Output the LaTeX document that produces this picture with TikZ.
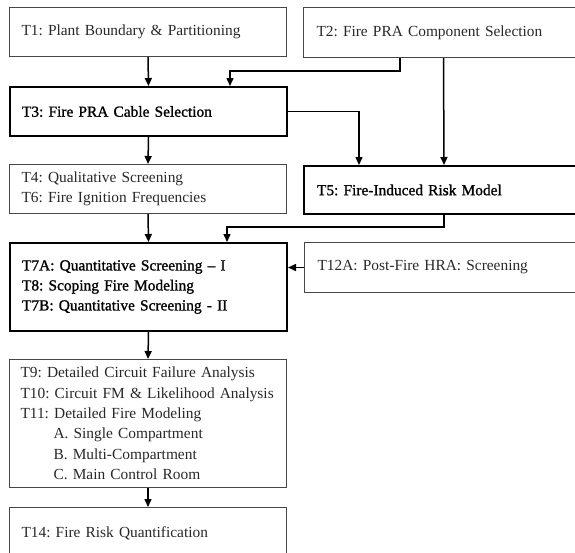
\documentclass[tikz,border=0pt]{standalone}
\usepackage{fontspec}
\setmainfont{Liberation Serif}
\newfontfamily\heavyfont[FakeBold=1.2,Ligatures=TeX]{Liberation Serif}
\usetikzlibrary{arrows.meta}

\definecolor{boxline}{RGB}{70,70,70}
\definecolor{boxtext}{RGB}{40,40,40}

\newcommand\taskfont{\fontsize{15.4}{20.4}\selectfont\frenchspacing\hyphenpenalty=10000\relax}
\newcommand\keyfont{\heavyfont\fontsize{15.4}{20}\selectfont\frenchspacing\hyphenpenalty=10000\relax}

\tikzset{
  taskbox/.style={draw=boxline, line width=1pt, anchor=north west,
    inner xsep=12pt, inner ysep=0pt, align=left, text=boxtext,
    font=\taskfont},
  keybox/.style={taskbox, draw=black, line width=2pt, text=black,
    font=\keyfont},
  flow/.style={line width=1.5pt, -{Triangle[length=8pt, width=7pt]}}
}

\begin{document}
\begin{tikzpicture}[x=1pt, y=-1pt]
\useasboundingbox (0,0) rectangle (575,552);

% task boxes
\node[taskbox, minimum width=277pt, minimum height=49pt, text width=253pt] (t1) at (9,7)
  {T1: Plant Boundary \& Partitioning};
\node[taskbox, minimum width=280pt, minimum height=50pt, text width=254pt] (t2) at (303,7)
  {T2: Fire PRA Component Selection};
\node[keybox, minimum width=277pt, minimum height=49pt, text width=253pt] (t3) at (9,86)
  {T3: Fire PRA Cable Selection};
\node[taskbox, minimum width=277pt, minimum height=49pt, text width=253pt] (t4) at (9,164)
  {T4: Qualitative Screening\\T6: Fire Ignition Frequencies};
\node[keybox, minimum width=280pt, minimum height=48pt, text width=254pt] (t5) at (303,165)
  {T5: Fire-Induced Risk Model};
\node[keybox, minimum width=277pt, minimum height=88pt, text width=253pt] (t7) at (9,242)
  {T7A: Quantitative Screening – I\\T8: Scoping Fire Modeling\\T7B: Quantitative Screening - II};
\node[taskbox, minimum width=280pt, minimum height=50pt, text width=254pt] (t12) at (304,242)
  {T12A: Post-Fire HRA: Screening};
\node[taskbox, inner xsep=11pt, minimum width=277pt, minimum height=128pt, text width=255pt] (t9) at (9,359)
  {T9: Detailed Circuit Failure Analysis\\
   T10: Circuit FM \& Likelihood Analysis\\
   T11: Detailed Fire Modeling\\
   \hspace*{33pt}A. Single Compartment\\
   \hspace*{33pt}B. Multi-Compartment\\
   \hspace*{33pt}C. Main Control Room};
\node[taskbox, minimum width=277pt, minimum height=52pt, text width=253pt] (t14) at (9,507)
  {T14: Fire Risk Quantification};

% bend points of the routed connectors
\coordinate (j1) at (230,71);
\coordinate (j2) at (227,227);

% connectors
\draw[flow] (t1.south) -- (t3.north);
\draw[flow] ([xshift=97pt]t2.south west) |- (j1) -- (j1 |- t3.north);
\draw[flow] (t2.south) -- (t5.north);
\draw[flow] (t3.east) -| ([xshift=56pt]t5.north west);
\draw[flow] (t3.south) -- (t4.north);
\draw[flow] (t5.south) |- (j2) -- (j2 |- t7.north);
\draw[flow] (t4.south) -- (t7.north);
\draw[flow] (t12.west) -- (t7.east |- t12.west);
\draw[flow] (t7.south) -- (t9.north);
\draw[flow] (t9.south) -- (t14.north);
\end{tikzpicture}
\end{document}
